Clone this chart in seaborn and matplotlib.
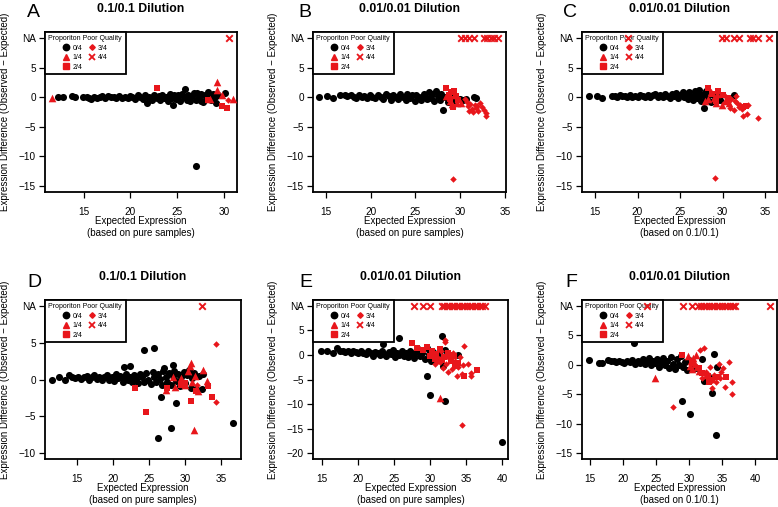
import matplotlib
matplotlib.use("Agg")
import matplotlib.pyplot as plt
from matplotlib.lines import Line2D
import seaborn as sns

# ---- Panel A: 0.1/0.1, based on pure samples
a_x0 = [12.2, 12.8, 13.7, 14.1, 14.9, 15.3, 15.6, 15.8, 16.1, 16.4, 16.7, 17.0, 17.3, 17.6,
        17.9, 18.2, 18.5, 18.8, 19.1, 19.4, 19.7, 20.0, 20.2, 20.5, 20.8, 21.0, 21.3, 21.6,
        21.8, 22.0, 22.3, 22.5, 22.8, 23.0, 23.2, 23.4, 23.6, 23.8, 24.0, 24.2, 24.4, 24.5,
        24.7, 24.9, 25.1, 25.3, 25.5, 25.7, 25.8, 26.0, 26.2, 26.4, 26.6, 26.8, 27.0, 27.1,
        27.3, 27.5, 27.6, 27.8, 28.0, 28.1, 28.3, 28.4, 28.6, 28.8, 28.9, 29.1, 29.2, 29.4,
        30.1, 27.0]
a_y0 = [0.0, -0.05, 0.15, 0.1, 0.0, 0.1, -0.1, -0.35, 0.05, -0.15, 0.1, 0.15, -0.1, 0.2,
        -0.05, 0.1, -0.2, 0.25, -0.1, 0.1, -0.2, 0.2, -0.05, -0.3, 0.3, 0.0, -0.3, 0.35,
        -0.95, 0.1, -0.4, 0.4, -0.2, 0.2, -0.5, 0.45, -0.1, 0.1, -0.6, 0.5, -0.2, -1.3,
        0.4, -0.3, 0.3, -0.7, 0.6, 0.0, 1.3, -0.4, 0.4, -0.6, 0.2, 0.7, -0.4, 0.75,
        0.0, -0.7, 0.5, -0.85, 0.3, -0.3, 0.8, 0.1, -0.5, 0.5, -0.1, -1.0, 0.2, 0.4,
        0.73, -11.67]
a_x1 = [11.6, 28.5, 29.25, 29.25, 29.8, 30.95]
a_y1 = [-0.1, -0.3, 2.5, 1.2, 0.3, -0.3]
a_x2 = [22.8, 28.3, 29.8, 30.35]
a_y2 = [1.6, -0.5, -1.5, -1.9]
a_x3 = [30.4]
a_y3 = [-0.45]
a_na = [30.5]

# ---- Panel B: 0.01/0.01, based on pure samples
b_x0 = [14.2, 15.1, 15.8, 16.6, 17.1, 17.4, 17.8, 18.1, 18.4, 18.7, 19.0, 19.3, 19.6, 19.9,
        20.2, 20.5, 20.8, 21.1, 21.4, 21.7, 22.0, 22.3, 22.5, 22.8, 23.1, 23.3, 23.6, 23.9,
        24.1, 24.4, 24.6, 24.9, 25.1, 25.4, 25.6, 25.9, 26.1, 26.3, 26.5, 26.7, 26.9, 27.1,
        27.3, 27.5, 27.7, 27.9, 28.1, 28.3, 28.6, 28.9, 29.3, 30.0, 30.3, 30.6, 31.5, 31.7]
b_y0 = [0.0, 0.25, -0.15, 0.4, 0.4, 0.2, 0.3, 0.1, -0.1, 0.3, 0.0, 0.25, -0.2, 0.35,
        0.1, -0.2, 0.4, 0.0, -0.3, 0.5, 0.2, -0.4, 0.35, 0.0, -0.3, 0.5, 0.1, -0.4,
        0.6, -0.1, 0.3, -0.6, 0.4, 0.0, -0.5, 0.6, 0.2, -0.3, 0.8, -0.1, 0.5, -0.6,
        1.0, 0.2, -0.4, 0.6, -2.1, 0.0, -0.8, 0.3, -0.5, -0.3, -0.4, -0.3, 0.1, -0.2]
b_x1 = [28.4, 28.8, 29.1, 29.4, 29.6, 30.1]
b_y1 = [0.2, -0.6, -1.2, 0.3, -0.9, -0.9]
b_x2 = [28.4, 28.7, 29.0, 29.3, 29.5, 29.7, 29.2, 28.9]
b_y2 = [1.6, 0.4, 0.8, 1.0, 0.2, -0.5, -1.6, -0.3]
b_x3 = [29.2, 30.7, 30.9, 31.1, 31.3, 31.4, 31.6, 31.8, 32.0, 32.2, 32.4, 32.6, 32.9, 32.9,
        31.0, 31.9, 30.5]
b_y3 = [-13.8, -0.8, -1.5, -1.1, -2.0, -2.5, -1.3, -1.9, -2.3, -1.0, -1.7, -2.1, -2.6, -3.1,
        -2.4, -1.5, -0.3]
b_na = [30.1, 30.5, 31.0, 31.5, 32.6, 33.0, 33.4, 33.8, 34.2]

# ---- Panel C: 0.01/0.01, based on 0.1/0.1
c_x0 = [14.3, 15.2, 15.8, 17.0, 17.3, 17.6, 17.9, 18.2, 18.5, 18.8, 19.1, 19.4, 19.7, 20.0,
        20.3, 20.6, 20.9, 21.2, 21.5, 21.8, 22.1, 22.4, 22.7, 23.0, 23.2, 23.5, 23.8, 24.0,
        24.3, 24.5, 24.8, 25.0, 25.3, 25.5, 25.7, 25.9, 26.1, 26.3, 26.5, 26.7, 26.9, 27.0,
        27.2, 27.4, 27.5, 27.7, 27.8, 28.0, 28.2, 28.4, 28.6, 28.9, 29.2, 29.5, 29.7, 31.35]
c_y0 = [0.28, 0.17, -0.1, 0.2, 0.25, 0.1, 0.3, 0.15, 0.2, 0.05, 0.3, 0.1, 0.25, 0.0,
        0.3, 0.15, 0.1, 0.35, -0.05, 0.3, 0.5, 0.1, 0.3, 0.0, 0.6, 0.2, -0.1, 0.5,
        0.2, 0.7, -0.2, 0.4, 0.8, 0.0, 0.5, -0.3, 0.9, 0.2, -0.5, 1.0, 0.4, -0.2,
        1.2, 0.6, -0.7, 0.3, -1.8, 1.1, -0.3, 0.6, -0.8, 0.4, -0.6, 0.1, -0.4, 0.45]
c_x1 = [27.9, 28.6, 29.0, 29.4, 29.9, 30.3, 30.8, 28.3, 29.2]
c_y1 = [-0.6, 0.9, -0.2, 0.6, -1.4, -0.6, -1.0, -0.3, -1.0]
c_x2 = [28.3, 28.8, 29.5, 30.0, 30.6, 32.4, 32.8, 29.2]
c_y2 = [1.6, 0.5, 1.0, 0.3, -0.2, -1.6, -1.5, -0.7]
c_x3 = [29.1, 30.2, 30.6, 31.0, 31.3, 31.5, 31.7, 31.9, 32.1, 32.3, 32.45, 32.9, 33.0, 34.2,
        30.9, 31.6]
c_y3 = [-13.7, 0.4, -0.8, -0.3, -2.2, -0.6, -1.0, -1.7, -1.3, -2.0, -3.1, -2.8, -1.4, -3.55,
        -1.9, 0.2]
c_na = [18.85, 29.9, 30.4, 31.4, 31.9, 33.2, 33.6, 34.2, 35.5]

# ---- Panel D: 0.1/0.1, based on pure samples
d_x0 = [11.5, 12.4, 13.3, 13.8, 14.3, 14.7, 15.1, 15.5, 15.9, 16.3, 16.6, 17.0, 17.3, 17.7,
        18.0, 18.4, 18.7, 19.1, 19.4, 19.8, 20.1, 20.4, 20.7, 21.0, 21.3, 21.5, 21.8, 22.0,
        22.3, 22.6, 22.9, 23.2, 23.5, 23.8, 24.0, 24.3, 24.6, 24.9, 25.2, 25.5, 25.7, 26.0,
        26.3, 26.5, 26.8, 27.0, 27.3, 27.5, 27.8, 28.0, 28.3, 28.5, 28.8, 29.0, 29.3, 29.5,
        29.8, 30.0, 30.3, 30.5, 30.8, 31.0, 31.3, 31.6, 31.9, 32.3, 32.5, 24.3, 25.7, 21.5,
        22.3, 27.1, 28.3, 26.6, 28.8, 28.1, 26.2, 36.7]
d_y0 = [-0.1, 0.35, 0.0, 0.6, 0.3, 0.2, 0.4, 0.1, 0.3, 0.5, 0.0, 0.3, 0.6, 0.1,
        0.4, -0.1, 0.3, 0.6, 0.0, 0.4, -0.2, 0.7, 0.2, 0.5, -0.3, 0.3, 0.8, 0.0,
        0.4, -0.4, 0.6, 0.1, -0.5, 0.8, 0.3, -0.3, 0.9, 0.0, -0.6, 1.0, 0.3, -0.4,
        0.8, 0.1, -0.7, 1.1, 0.4, -0.3, 0.9, -0.8, 0.5, 1.2, -0.2, 0.7, -0.9, 0.3,
        1.0, -0.5, 0.6, 1.3, -1.1, 0.2, 0.9, -1.27, 0.5, -1.27, 0.8, 3.95, 4.23, 1.73,
        1.82, 1.5, 1.95, -2.4, -3.23, -6.64, -8.0, -5.95]
d_x1 = [30.8, 30.7, 31.2, 27.4, 28.6, 28.3, 30.4, 32.5, 33.0, 31.6, 30.0, 31.4, 31.0, 31.8, 29.5]
d_y1 = [2.3, 1.8, -6.8, -1.45, -1.05, 0.35, 1.15, 1.25, -0.25, -1.35, -0.7, 0.45, -0.3, -1.6, 0.2]
d_x2 = [23.0, 24.6, 30.9, 33.7, 33.2, 30.0, 29.5, 31.5, 27.5]
d_y2 = [-1.1, -4.4, -2.9, -2.4, -0.9, -0.45, -0.7, -1.5, -1.2]
d_x3 = [34.3, 34.3, 31.7]
d_y3 = [4.85, -3.0, -0.8]
d_na = [32.3]

# ---- Panel E: 0.01/0.01, based on pure samples
e_x0 = [14.8, 15.7, 16.5, 17.1, 17.5, 17.9, 18.2, 18.6, 19.0, 19.3, 19.7, 20.0, 20.4, 20.7,
        21.0, 21.4, 21.7, 22.0, 22.3, 22.7, 23.0, 23.3, 23.6, 23.9, 24.2, 24.5, 24.8, 25.1,
        25.4, 25.7, 26.0, 26.3, 26.6, 26.9, 27.2, 27.5, 27.8, 28.0, 28.3, 28.6, 28.9, 29.2,
        29.5, 29.8, 30.1, 30.4, 30.8, 31.2, 25.6, 23.4, 31.6, 32.0, 33.9, 29.5, 29.9, 32.0,
        39.9, 31.8, 30.5]
e_y0 = [0.75, 0.75, 0.4, 1.4, 0.8, 0.9, 0.6, 0.8, 0.5, 0.9, 0.6, 0.4, 0.8, 0.5,
        0.2, 0.9, 0.4, -0.2, 0.7, 0.3, 0.0, 0.8, 0.2, -0.3, 0.6, 0.1, 1.0, -0.4,
        0.5, 0.0, 0.8, -0.3, 0.4, -0.5, 0.9, 0.1, -0.6, 0.6, 1.2, -0.2, 0.5, -0.9,
        1.4, 0.2, -1.2, 0.6, -0.5, 0.3, 3.4, 2.2, 3.95, 0.95, 0.05, -4.2, -8.2, -9.3,
        -17.8, -2.3, -0.8]
e_x1 = [31.3, 30.5, 31.0]
e_y1 = [-8.8, 0.5, -1.0]
e_x2 = [27.5, 28.1, 29.0, 29.6, 30.2, 30.8, 31.3, 31.9, 32.4, 32.9, 33.3, 33.8, 34.7, 36.5,
        30.6, 31.6, 32.7, 33.5, 29.9]
e_y2 = [2.4, 1.4, 1.0, 1.6, 0.8, 0.2, 1.2, -0.5, 0.4, -1.2, -0.3, -1.6, -4.2, -3.0,
        -0.8, -1.0, 0.0, -2.2, -0.2]
e_x3 = [32.0, 32.0, 34.7, 35.2, 35.6, 35.7, 33.65, 34.35, 34.35, 30.9, 31.4, 31.8, 32.2, 32.6,
        33.0, 33.4, 33.8, 34.1, 34.5, 32.5, 33.2, 31.5, 30.6]
e_y3 = [3.0, 2.6, 1.8, -1.8, -3.7, -4.2, -4.2, -3.8, -14.35, -0.4, -1.4, -2.6, -1.8, -0.7,
        -2.9, -1.2, -2.5, -0.5, -2.0, -3.4, 0.3, 0.9, -1.8]
e_na = [27.7, 29.0, 29.9, 31.6, 31.95, 32.3, 32.65, 33.0, 33.35, 33.7, 34.05, 34.4, 34.75,
        35.1, 35.45, 35.8, 36.15, 36.5, 36.85, 37.2, 37.6]

# ---- Panel F: 0.01/0.01, based on 0.1/0.1
f_x0 = [14.9, 16.3, 16.8, 17.8, 18.2, 18.6, 19.0, 19.4, 19.8, 20.2, 20.6, 21.0, 21.4, 21.8,
        22.2, 22.6, 23.0, 23.3, 23.7, 24.0, 24.3, 24.6, 24.9, 25.2, 25.5, 25.8, 26.1, 26.4,
        26.7, 27.0, 27.3, 27.6, 27.9, 28.2, 28.5, 28.8, 29.1, 29.4, 29.7, 30.0, 30.4, 31.0,
        31.9, 21.7, 29.0, 30.15, 34.1, 33.4, 33.7, 34.2, 33.0, 32.3]
f_y0 = [0.85, 0.3, 0.3, 0.75, 0.6, 0.7, 0.45, 0.65, 0.5, 0.3, 0.7, 0.45, 0.8, 0.2,
        0.6, 0.35, 0.9, 0.1, 0.5, 1.1, -0.1, 0.6, 0.3, 1.0, -0.3, 0.5, 1.2, 0.0,
        0.7, -0.5, 1.3, 0.2, -0.7, 0.9, 0.0, 1.5, -0.4, 0.5, -0.9, 0.8, -0.2, -0.5,
        0.96, 3.75, -6.1, -8.4, -11.86, -4.8, 1.8, -0.4, -2.0, -2.7]
f_x1 = [24.9, 29.9, 30.3, 30.6, 30.9, 31.2, 30.5, 31.0, 31.5, 30.1, 32.5, 33.2]
f_y1 = [-2.2, 1.5, 0.6, 1.2, 0.2, -0.4, -0.8, 1.6, -1.0, -0.2, -1.8, -2.4]
f_x2 = [29.0, 30.4, 31.5, 32.8, 33.5, 34.3, 35.6, 33.0, 31.9]
f_y2 = [1.7, 0.3, -0.6, -1.9, -2.6, -2.0, -2.1, -3.0, -1.4]
f_x3 = [31.6, 32.2, 36.1, 35.45, 36.5, 36.5, 33.4, 27.6, 34.7, 32.6, 33.1, 33.8, 34.0, 34.9,
        32.0, 33.3, 35.2, 34.5]
f_y3 = [2.5, 2.9, 0.5, -3.8, -4.9, -3.0, -3.95, -7.2, -2.3, -1.2, -0.4, -1.7, -3.0, -1.2,
        -2.2, -2.8, -0.6, 0.1]
f_na = [23.7, 29.1, 30.4, 31.4, 31.8, 32.2, 32.6, 33.0, 33.4, 33.8, 34.2, 34.6, 35.0, 35.4,
        35.8, 36.2, 36.6, 37.0, 42.3]

quality_labels = ["0/4", "1/4", "2/4", "3/4", "4/4"]
legend_title = "Proporiton Poor Quality"
ylab = "Expression Difference (Observed \u2212 Expected)"
xlab_pure = "Expected Expression\n(based on pure samples)"
xlab_01 = "Expected Expression\n(based on 0.1/0.1)"

RED = "#e8161b"
NA_Y = 10   # row where NA differences are drawn

sns.set_theme(style="ticks")
plt.rcParams["font.family"] = ["Liberation Sans", "DejaVu Sans"]
plt.rcParams.update({"text.color": "black", "axes.labelcolor": "black",
                     "xtick.color": "black", "ytick.color": "black"})

W, H = 778, 507
fig = plt.figure(figsize=(W / 100, H / 100), dpi=100)


def box(l, t, r, b):
    return [l / W, 1 - b / H, (r - l) / W, (b - t) / H]


# marker, colour, size for 0/4 .. 3/4
styles = [("o", "black", 26), ("^", RED, 30), ("s", RED, 20), ("D", RED, 11)]


def panel(pos, letter, letter_xy, title, xlab, xlim, ylim, xticks, ylow, series, na):
    ax = fig.add_axes(pos)
    for (xs, ys), (m, c, s) in zip(series, styles):
        sns.scatterplot(x=xs, y=ys, marker=m, color=c, s=s, linewidth=0,
                        ax=ax, legend=False, zorder=3)
    sns.scatterplot(x=na, y=[NA_Y] * len(na), marker="x", color=RED, s=22,
                    linewidth=1.4, ax=ax, legend=False, zorder=7)

    ax.set_xlim(*xlim)
    ax.set_ylim(*ylim)
    ax.set_xticks(xticks)
    yt = [NA_Y] + list(range(5, ylow - 1, -5))
    ax.set_yticks(yt)
    ax.set_yticklabels(["NA"] + [str(v).replace("-", "\u2212") for v in yt[1:]])
    ax.tick_params(direction="out", length=4, width=0.9, labelsize=7.2)
    ax.tick_params(axis="x", pad=6.5)
    ax.tick_params(axis="y", pad=2.5)
    for sp in ax.spines.values():
        sp.set_visible(True)
        sp.set_color("black")
        sp.set_linewidth(1.3)

    w_px = pos[2] * W
    h_px = pos[3] * H
    ax.set_ylabel(ylab, fontsize=7)
    ax.yaxis.set_label_coords(-35 / w_px, 0.5)
    ax.set_xlabel(xlab, fontsize=7, linespacing=1.3)
    ax.xaxis.set_label_coords(0.5, -24 / h_px)
    ax.set_title(title, fontsize=8.8, fontweight="bold", pad=14.3)

    handles = [Line2D([], [], ls="none", marker="o", color="black", markersize=4.6),
               Line2D([], [], ls="none", marker="^", color=RED, markersize=5),
               Line2D([], [], ls="none", marker="s", color=RED, markersize=4),
               Line2D([], [], ls="none", marker="D", color=RED, markersize=2.8),
               Line2D([], [], ls="none", marker="x", color=RED, markersize=4,
                      markeredgewidth=1.3)]
    leg = ax.legend(handles, quality_labels, title=legend_title, ncol=2,
                    loc="upper left", bbox_to_anchor=(0, 1), borderaxespad=0,
                    fontsize=5, title_fontsize=5, frameon=True, fancybox=False,
                    edgecolor="black", framealpha=1, handlelength=1.0,
                    handletextpad=0.4, columnspacing=0.9, labelspacing=0.35,
                    borderpad=0.5)
    leg.get_frame().set_linewidth(1.3)
    leg.set_zorder(5)

    fig.text(letter_xy[0] / W, 1 - letter_xy[1] / H, letter, fontsize=14,
             ha="left", va="baseline")
    return ax


top = (32, 192)
bot = (300, 459)

panel(box(45, top[0], 237, top[1]), "A", (27, 16.7), "0.1/0.1 Dilution", xlab_pure,
      (10.85, 31.4), (-16, 11), [15, 20, 25, 30], -15,
      [(a_x0, a_y0), (a_x1, a_y1), (a_x2, a_y2), (a_x3, a_y3)], a_na)
panel(box(313, top[0], 506, top[1]), "B", (298, 16.7), "0.01/0.01 Dilution", xlab_pure,
      (13.57, 35.1), (-16, 11), [15, 20, 25, 30, 35], -15,
      [(b_x0, b_y0), (b_x1, b_y1), (b_x2, b_y2), (b_x3, b_y3)], b_na)
panel(box(582, top[0], 777, top[1]), "C", (563, 16.7), "0.01/0.01 Dilution", xlab_01,
      (13.47, 36.4), (-16, 11), [15, 20, 25, 30, 35], -15,
      [(c_x0, c_y0), (c_x1, c_y1), (c_x2, c_y2), (c_x3, c_y3)], c_na)
panel(box(45, bot[0], 241, bot[1]), "D", (27, 287.3), "0.1/0.1 Dilution", xlab_pure,
      (10.5, 37.8), (-10.8, 10.8), [15, 20, 25, 30, 35], -10,
      [(d_x0, d_y0), (d_x1, d_y1), (d_x2, d_y2), (d_x3, d_y3)], d_na)
panel(box(313, bot[0], 508, bot[1]), "E", (299, 287.3), "0.01/0.01 Dilution", xlab_pure,
      (13.7, 40.8), (-21.2, 11.2), [15, 20, 25, 30, 35, 40], -20,
      [(e_x0, e_y0), (e_x1, e_y1), (e_x2, e_y2), (e_x3, e_y3)], e_na)
panel(box(582, bot[0], 777, bot[1]), "F", (565, 287.3), "0.01/0.01 Dilution", xlab_01,
      (13.8, 43.3), (-16, 11), [15, 20, 25, 30, 35, 40], -15,
      [(f_x0, f_y0), (f_x1, f_y1), (f_x2, f_y2), (f_x3, f_y3)], f_na)

fig.savefig("out.png", dpi=100)
